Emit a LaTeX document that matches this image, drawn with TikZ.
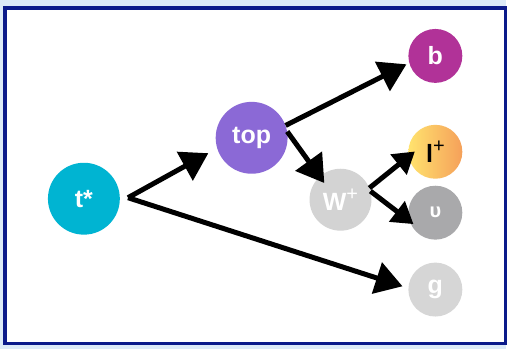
\documentclass[tikz,border=0pt]{standalone}
\usepackage{fontspec}
\setmainfont{Liberation Sans}
\usetikzlibrary{arrows.meta,calc}

\definecolor{framenavy}{HTML}{0B1A8A}
\definecolor{pageblue}{HTML}{DCEAF8}
\definecolor{tstarcyan}{HTML}{00B4D2}
\definecolor{toppurple}{HTML}{8B69D6}
\definecolor{bmagenta}{HTML}{B13298}
\definecolor{wgray}{HTML}{D3D3D3}
\definecolor{upsgray}{HTML}{A9A9AB}
\definecolor{ggray}{HTML}{D6D6D6}
\definecolor{lyellow}{HTML}{FFE36E}
\definecolor{lorange}{HTML}{F5A05A}

\newcommand{\chargeplus}{\raisebox{0.4em}{\fontsize{20}{22}\selectfont\mdseries+}}

\tikzset{
  particle/.style={circle, inner sep=0pt, text=white,
    font=\fontsize{25}{28}\selectfont\bfseries},
  bigparticle/.style={particle, minimum size=72pt},
  smallparticle/.style={particle, minimum size=54pt},
  decay/.style={line width=5pt, black,
    -{Triangle[length=27pt,width=32pt]}},
  subdecay/.style={decay, -{Triangle[length=21pt,width=25pt]}}
}

\begin{document}
\begin{tikzpicture}[x=1pt,y=1pt]
\fill[pageblue] (0,0) rectangle (507,350);
\draw[framenavy,line width=3.5pt,fill=white] (5,6) rectangle (506,342);

\node[bigparticle,fill=tstarcyan] (tstar) at (84,151) {t*};
\node[bigparticle,fill=toppurple] (top) at (252,212) {top};
\node[particle,minimum size=62pt,fill=wgray] (W) at (341,150) {W\chargeplus};
\node[smallparticle,fill=bmagenta] (b) at (436,294) {b};
\node[smallparticle,left color=lyellow,right color=lorange,text=black] (lplus) at (436,198) {l\chargeplus};
\node[smallparticle,fill=upsgray,font=\fontsize{20}{23}\selectfont\bfseries] (ups) at (436,137) {υ};
\node[smallparticle,fill=ggray] (g) at (436,60) {g};

\coordinate (split) at ($(tstar.east)+(8,1)$);

% t* branches
\draw[decay,shorten >=10pt] (split) -- (top.197);
\draw[decay,shorten >=6pt] (split) -- (g.177);
% top decays
\draw[decay,shorten >=3pt] (top.20) -- (b.195);
\draw[decay,shorten >=-8pt] (top.10) -- (W.132);
% W decays
\draw[subdecay,shorten >=-8pt] (W.22) -- (lplus.190);
\draw[subdecay,shorten >=-5pt] (W.16) -- (ups.198);
\end{tikzpicture}
\end{document}
